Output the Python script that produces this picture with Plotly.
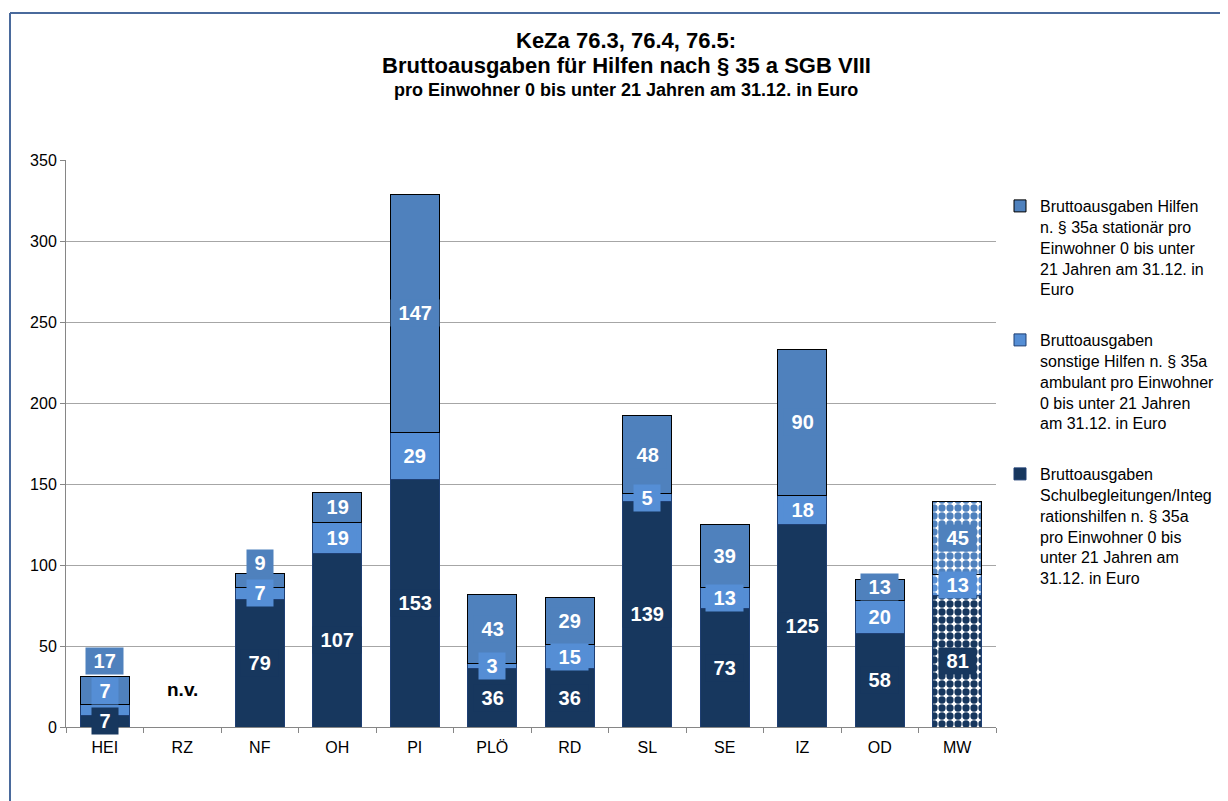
import plotly.graph_objects as go

# ---------------- data ----------------
categories = ["HEI", "RZ", "NF", "OH", "PI", "PLÖ", "RD", "SL", "SE", "IZ", "OD", "MW"]
schulbegleitung = [7, None, 79, 107, 153, 36, 36, 139, 73, 125, 58, 81]
ambulant = [7, None, 7, 19, 29, 3, 15, 5, 13, 18, 20, 13]
stationaer = [17, None, 9, 19, 147, 43, 29, 48, 39, 90, 13, 45]
missing_label = "n.v."
missing_category = "RZ"

name_stationaer = ("Bruttoausgaben Hilfen<br>n. § 35a stationär pro<br>Einwohner 0 bis unter<br>"
                   "21 Jahren am 31.12. in<br>Euro")
name_ambulant = ("Bruttoausgaben<br>sonstige Hilfen n. § 35a<br>ambulant pro Einwohner<br>"
                 "0 bis unter 21 Jahren<br>am 31.12. in Euro")
name_schul = ("Bruttoausgaben<br>Schulbegleitungen/Integ<br>rationshilfen n. § 35a<br>"
              "pro Einwohner 0 bis<br>unter 21 Jahren am<br>31.12. in Euro")

title_lines = ["KeZa 76.3, 76.4, 76.5:",
               "Bruttoausgaben für Hilfen nach § 35 a SGB VIII",
               "pro Einwohner 0 bis unter 21 Jahren am 31.12. in Euro"]
y_ticks = [0, 50, 100, 150, 200, 250, 300, 350]

# ---------------- styling ----------------
PAGE_W, PAGE_H = 1228, 801
OFF = 8                      # default body margin of the html page
W, H = PAGE_W - OFF, PAGE_H - OFF
PLOT_L, PLOT_R, PLOT_T, PLOT_B = 66, 996, 160, 727   # page pixels of the plot area
L = PLOT_L - OFF
T = PLOT_T - OFF
PW = PLOT_R - PLOT_L
PH = PLOT_B - PLOT_T
R = W - L - PW
B = H - T - PH
YMAX = 350
FONT = "Liberation Sans, Arial, sans-serif"

C_TOP = "#4F81BD"
C_AMB = "#558ED5"
C_DARK = "#17375E"
LINE_NAVY = "#1F3F73"


def px_x(px):
    return (px - PLOT_L) / PW


def px_y(py):
    return (PLOT_B - py) / PH


pattern_shapes = ["." if c == "MW" else "" for c in categories]

fig = go.Figure()
series = [
    (schulbegleitung, name_schul, C_DARK, LINE_NAVY, 3),
    (ambulant, name_ambulant, C_AMB, LINE_NAVY, 2),
    (stationaer, name_stationaer, C_TOP, "#000000", 1),
]
for i, (vals, name, col, lcol, rank) in enumerate(series):
    fig.add_trace(go.Bar(
        x=categories, y=vals, name=name, legendgroup=f"g{i}", legendrank=rank,
        marker=dict(color=col, line=dict(color=lcol, width=1),
                    pattern=dict(shape=pattern_shapes, fgcolor=col, bgcolor="white",
                                 size=8, solidity=0.65, fillmode="replace")),
        hoverinfo="skip",
    ))

# data labels with coloured background boxes, pushed upward to avoid overlaps
units_per_px = YMAX / PH
sep = 30 * units_per_px
annotations = []
for i, cat in enumerate(categories):
    base = 0
    prev_c = None
    for vals, name, col, lcol, rank in series:
        v = vals[i]
        if v is None:
            continue
        c = base + v / 2
        if prev_c is not None and c < prev_c + sep:
            c = prev_c + sep
        prev_c = c
        base += v
        annotations.append(dict(
            x=cat, y=c, xref="x", yref="y", showarrow=False,
            text="<b>\u00a0" + str(v) + "\u00a0</b>",
            font=dict(family=FONT, size=20, color="white"),
            bgcolor=col, borderpad=2,
        ))

annotations.append(dict(x=missing_category, y=23, xref="x", yref="y", showarrow=False,
                        text="<b>" + missing_label + "</b>",
                        font=dict(family=FONT, size=19, color="black")))

# title lines
title_px = [(41, 22), (66, 22), (90, 18)]
for txt, (py, sz) in zip(title_lines, title_px):
    annotations.append(dict(x=px_x(626), y=px_y(py), xref="paper", yref="paper",
                            showarrow=False, text="<b>" + txt + "</b>",
                            xanchor="center", yanchor="middle",
                            font=dict(family=FONT, size=sz, color="black")))

FRAME = "#4A6A9C"
shapes = [
    dict(type="line", xref="paper", yref="paper", x0=px_x(10), x1=px_x(10),
         y0=px_y(PAGE_H), y1=px_y(13), line=dict(color=FRAME, width=2)),
    dict(type="line", xref="paper", yref="paper", x0=px_x(10), x1=px_x(PAGE_W),
         y0=px_y(13), y1=px_y(13), line=dict(color=FRAME, width=2)),
]

fig.update_layout(
    width=W, height=H,
    margin=dict(l=L, r=R, t=T, b=B, autoexpand=False),
    barmode="stack", bargap=0.37,
    paper_bgcolor="white", plot_bgcolor="white",
    font=dict(family=FONT, size=16, color="black"),
    showlegend=True,
    legend=dict(x=px_x(1000), y=px_y(189), xanchor="left", yanchor="top",
                traceorder="grouped", tracegroupgap=27, valign="top",
                font=dict(family=FONT, size=16, color="black"),
                itemwidth=30, bgcolor="rgba(0,0,0,0)"),
    xaxis=dict(type="category", showgrid=False, showline=True, linecolor="#868686",
               ticks="outside", tickson="boundaries", ticklen=5, tickcolor="#868686",
               ticklabelstandoff=6,
               tickfont=dict(family=FONT, size=16, color="black")),
    yaxis=dict(range=[0, YMAX], tickvals=y_ticks, showgrid=True, gridcolor="#A6A6A6",
               showline=True, linecolor="#868686", ticks="outside", ticklen=5,
               tickcolor="#868686", zeroline=False,
               tickfont=dict(family=FONT, size=16, color="black")),
    annotations=annotations, shapes=shapes,
)

fig.write_html("out.html")
